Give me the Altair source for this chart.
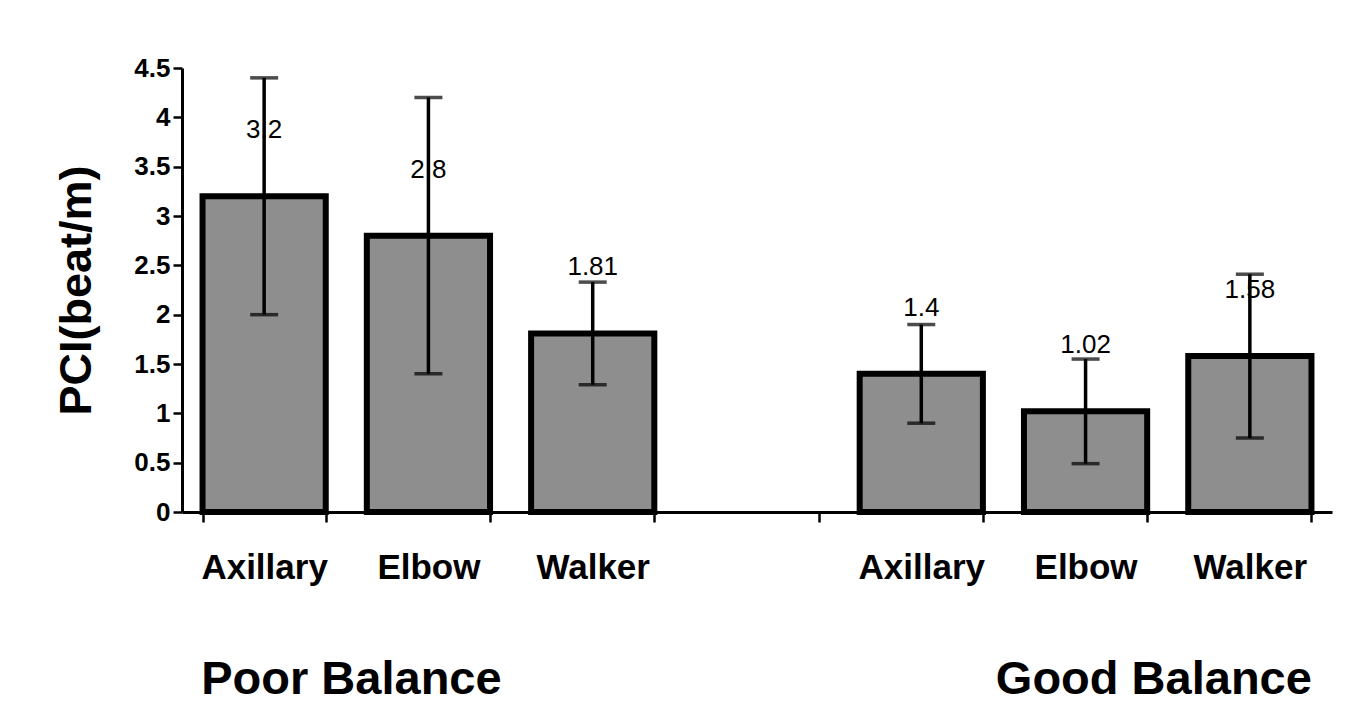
import altair as alt
import pandas as pd

# ---- data ----
groups = ["P", "P", "P", "G", "G", "G"]
devices = ["Axillary", "Elbow", "Walker", "Axillary", "Elbow", "Walker"]
means = [3.2, 2.8, 1.81, 1.4, 1.02, 1.58]
sds = [1.2, 1.4, 0.52, 0.5, 0.53, 0.83]
value_labels = ["3.2", "2.8", "1.81", "1.4", "1.02", "1.58"]

slot_order = ["P|Axillary", "P|Elbow", "P|Walker", "gap",
              "G|Axillary", "G|Elbow", "G|Walker"]
group_titles = ["Poor Balance", "Good Balance"]
group_anchor = ["P|Elbow", "G|Walker"]
y_ticks = [0, 0.5, 1, 1.5, 2, 2.5, 3, 3.5, 4, 4.5]

df = pd.DataFrame({
    "slot": [g + "|" + d for g, d in zip(groups, devices)],
    "pci": means,
    "sd": sds,
    "lab": value_labels,
})
df["lo"] = df["pci"] - df["sd"]
df["hi"] = df["pci"] + df["sd"]
gdf_poor = pd.DataFrame({"slot": [group_anchor[0]], "title": [group_titles[0]]})
gdf_good = pd.DataFrame({"slot": [group_anchor[1]], "title": [group_titles[1]]})

FONT = "Liberation Sans"

x_enc = alt.X(
    "slot:N",
    scale=alt.Scale(domain=slot_order, paddingInner=0.25, paddingOuter=0.125),
    axis=alt.Axis(
        title=None,
        labelExpr="isString(datum.value) && indexof(datum.value,'|')>=0 ? split(datum.value,'|')[1] : ''",
        labelAngle=0,
        labelFont=FONT,
        labelFontSize=35,
        labelFontWeight="bold",
        labelColor="black",
        labelPadding=28,
        tickBand="extent",
        tickSize=10,
        tickWidth=2.5,
        tickColor="black",
        domainColor="black",
        domainWidth=3,
        grid=False,
    ),
)

y_scale = alt.Scale(domain=[0, 4.5])
y_axis = alt.Axis(
    title="PCI(beat/m)",
    titleFont=FONT,
    titleFontSize=45,
    titleFontWeight="bold",
    titleColor="black",
    titlePadding=34,
    values=y_ticks,
    labelExpr="isValid(datum.value) ? format(datum.value, '.1~f') : ''",
    labelFont=FONT,
    labelFontSize=26,
    labelFontWeight="bold",
    labelColor="black",
    labelPadding=3,
    tickSize=9,
    tickWidth=2.5,
    tickColor="black",
    domainColor="black",
    domainWidth=3,
    grid=False,
)

base = alt.Chart(df)

bars = base.mark_bar(fill="#8e8e8e", stroke="black", strokeWidth=6).encode(
    x=x_enc,
    y=alt.Y("pci:Q", scale=y_scale, axis=y_axis),
)

err = base.mark_rule(color="black", strokeWidth=3.5).encode(
    x=alt.X("slot:N"),
    y=alt.Y("lo:Q"),
    y2="hi:Q",
)

cap_hi = base.mark_tick(color="black", thickness=3.5, size=28).encode(
    x=alt.X("slot:N"), y=alt.Y("hi:Q")
)
cap_lo = base.mark_tick(color="black", thickness=3.5, size=28).encode(
    x=alt.X("slot:N"), y=alt.Y("lo:Q")
)

labels = base.mark_text(
    font=FONT, fontSize=26, color="black", dy=-66, baseline="middle"
).encode(x=alt.X("slot:N"), y=alt.Y("pci:Q"), text="lab:N")

poor_title = alt.Chart(gdf_poor).mark_text(
    font=FONT, fontSize=47, fontWeight="bold", color="black", dx=-77,
    baseline="middle"
).encode(x=alt.X("slot:N"), y=alt.value(612), text="title:N")

good_title = alt.Chart(gdf_good).mark_text(
    font=FONT, fontSize=47, fontWeight="bold", color="black", dx=-96,
    baseline="middle"
).encode(x=alt.X("slot:N"), y=alt.value(612), text="title:N")

chart = (
    alt.layer(bars, err, cap_hi, cap_lo, labels, poor_title, good_title)
    .properties(
        width=1150,
        height=444,
        background="white",
        autosize=alt.AutoSizeParams(type="none"),
        padding={"left": 174, "top": 60, "right": 10, "bottom": 200},
    )
    .configure_view(stroke=None)
)

chart.save("out.html", embed_options={"renderer": "svg", "actions": False})
